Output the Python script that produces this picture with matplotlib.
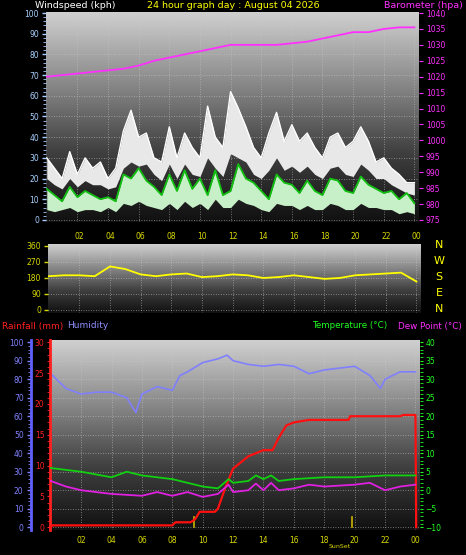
import numpy as np
import matplotlib
matplotlib.use("Agg")
import matplotlib.pyplot as plt
from matplotlib.colors import LinearSegmentedColormap

# ---------------- data ----------------
hour_ticks = [2, 4, 6, 8, 10, 12, 14, 16, 18, 20, 22, 24]
hour_labels = ["02", "04", "06", "08", "10", "12", "14", "16", "18", "20", "22", "00"]

baro = [1020, 1020.5, 1021, 1021.5, 1022, 1022.5, 1023.5, 1025, 1026, 1027, 1028, 1029,
        1030, 1030, 1030, 1030, 1030.5, 1031, 1032, 1033, 1034, 1034, 1035, 1035.5, 1035.5]

gust = [30, 25, 20, 33, 22, 30, 25, 28, 20, 25, 43, 53, 40, 42, 30, 28, 45, 30, 42, 35,
        30, 55, 40, 35, 62, 54, 45, 35, 30, 42, 52, 38, 46, 38, 42, 35, 30, 40, 42, 35,
        38, 45, 38, 28, 30, 25, 22, 18, 18]
gust_low = [20, 17, 15, 20, 16, 19, 17, 17, 15, 16, 25, 28, 26, 27, 22, 19, 27, 20, 27, 22,
            21, 30, 25, 21, 32, 30, 28, 22, 20, 24, 30, 24, 26, 23, 26, 22, 20, 25, 26, 22,
            21, 27, 24, 20, 20, 17, 15, 13, 12]
wind_avg = [15, 12, 9, 16, 11, 14, 12, 10, 11, 9, 22, 20, 25, 19, 16, 12, 22, 14, 24, 15,
            20, 12, 24, 12, 14, 27, 20, 18, 14, 10, 22, 18, 17, 13, 19, 14, 12, 20, 19, 14,
            13, 21, 17, 15, 13, 14, 10, 13, 8]
wind_lull = [5, 4, 5, 6, 4, 5, 5, 4, 6, 4, 8, 7, 9, 7, 6, 5, 8, 5, 9, 6, 8, 5, 10, 6, 6,
             10, 8, 7, 5, 4, 8, 7, 7, 5, 7, 5, 5, 8, 7, 5, 5, 8, 6, 6, 5, 5, 3, 4, 3]

wdir = [190, 195, 195, 190, 245, 230, 200, 190, 200, 205, 185, 190, 200, 195, 180, 185,
        195, 185, 175, 180, 195, 200, 205, 210, 160]

hum_h = [0, 1, 2, 3, 4, 5, 5.6, 6, 7, 8, 8.5, 9, 10, 11, 11.6, 12, 13, 14, 15, 16, 17, 18,
         19, 20, 21, 21.7, 22, 23, 24]
hum = [83, 75, 72, 73, 73, 70, 62, 72, 76, 74, 82, 84, 89, 91, 93, 90, 88, 87, 88, 87, 83,
       85, 86, 87, 82, 75, 80, 84, 84]

temp_h = [0, 2, 4, 5, 6, 8, 9, 10, 11, 11.7, 12, 13, 13.5, 14, 14.5, 15, 16, 18, 20, 22, 24]
temp = [6, 5, 3.5, 5, 4, 3, 2, 1, 0.5, 3, 2, 2.5, 4, 3, 4, 2.5, 3, 3.5, 3.5, 4, 4]

dew_h = [0, 1, 2, 4, 6, 7, 8, 9, 10, 11, 11.7, 12, 13, 13.5, 14, 14.5, 15, 16, 17, 18, 20,
         21, 22, 23, 24]
dew = [2.5, 1, 0, -1, -1.5, -0.5, -1.5, -0.5, -1.8, -1, 1.5, -0.5, 0, 1.8, 0, 2, 0, 0.5,
       1.5, 1, 1.5, 2, 0, 1, 1.5]

rain_h = [0, 0.1, 8, 8.2, 9.2, 9.5, 9.8, 10.8, 11, 11.5, 12, 12.5, 13, 13.5, 14, 14.6, 15,
          15.5, 16, 17, 19.6, 19.7, 23, 23.2, 24, 24.05]
rain = [0, 0.3, 0.3, 0.8, 0.8, 1.3, 2.5, 2.5, 3, 6.5, 9.5, 10.5, 11.5, 12, 12.5, 12.5, 14.5,
        16.5, 17, 17.4, 17.4, 18, 18, 18.2, 18.2, 0]

sun_events = [9.4, 19.8]

# ---------------- figure ----------------
W, H = 466, 555
fig = plt.figure(figsize=(W / 100, H / 100), dpi=100, facecolor="black")
cmap = LinearSegmentedColormap.from_list("bg", ["#101010", "#404040", "#8a8a8a", "#d0d0d0"])

def box(l, t, r, b):
    return [l / W, 1 - b / H, (r - l) / W, (b - t) / H]

def background(ax):
    grad = np.linspace(0, 1, 256).reshape(-1, 1)
    ax.imshow(grad, aspect="auto", cmap=cmap, origin="lower",
              extent=[*ax.get_xlim(), *ax.get_ylim()], zorder=0)

def style(ax, ycol, fs=5.5):
    ax.set_facecolor("black")
    for s in ax.spines.values():
        s.set_visible(False)
    ax.tick_params(axis="y", colors=ycol, labelsize=fs, length=3, width=1, pad=2)
    ax.tick_params(axis="x", colors="#d8d800", labelsize=fs, length=0, pad=4)
    ax.set_xticks(hour_ticks)
    ax.set_xticklabels(hour_labels)
    ax.grid(True, color="#c8c8c8", linestyle=(0, (1, 2)), linewidth=0.6, alpha=0.7)

XL = (-0.05, 24.3)

# --- panel 1: wind + barometer
ax1 = fig.add_axes(box(46, 12, 419, 222))
ax1.set_xlim(*XL)
ax1.set_ylim(-1, 100.5)
style(ax1, "#a8d0ff")
ax1.tick_params(axis="x", labelbottom=False)
ax1.set_yticks(range(0, 101, 10))
ax1.set_yticks(range(0, 101, 2), minor=True)
ax1.tick_params(axis="y", which="minor", colors="#a8d0ff", length=2)
background(ax1)
xw = np.linspace(0, 24, len(gust))
ax1.fill_between(xw, gust_low, gust, color="#e8e8e8", lw=0, zorder=2)
ax1.plot(xw, gust, color="white", lw=1, zorder=3)
ax1.fill_between(xw, wind_lull, wind_avg, color="#c8f0c8", lw=0, zorder=3)
ax1.plot(xw, wind_avg, color="#10c010", lw=1.3, zorder=4)
ax1b = ax1.twinx()
ax1b.set_xlim(*XL)
ax1b.set_ylim(975 - 0.65, 1040 + 0.33)
for s in ax1b.spines.values():
    s.set_visible(False)
ax1b.set_yticks(range(975, 1041, 5))
ax1b.tick_params(axis="y", colors="#ff30ff", labelsize=5.5, length=3, pad=2)
ax1b.plot(np.linspace(0, 24, len(baro)), baro, color="#ff30ff", lw=1.3)
ax1.set_zorder(1)
ax1b.set_zorder(2)
ax1b.patch.set_visible(False)

fig.text(35 / W, 1 - 5 / H, "Windspeed (kph)", color="white", fontsize=6.8, va="center")
fig.text(233 / W, 1 - 5 / H, "24 hour graph day : August 04 2026", color="#ffff00",
         fontsize=6.8, va="center", ha="center")
fig.text(463 / W, 1 - 5 / H, "Barometer (hpa)", color="#ff30ff", fontsize=6.8,
         va="center", ha="right")

# --- panel 2: wind direction
ax2 = fig.add_axes(box(48, 244, 421, 313))
ax2.set_xlim(*XL)
ax2.set_ylim(-17, 371)
style(ax2, "#d8d800")
ax2.xaxis.tick_top()
ax2.tick_params(axis="x", pad=2)
ax2.set_yticks([0, 90, 180, 270, 360])
background(ax2)
ax2.plot(np.linspace(0, 24, len(wdir)), wdir, color="#ffff00", lw=1.3, zorder=3)
for i, lab in enumerate(["N", "W", "S", "E", "N"]):
    fig.text(439 / W, 1 - (245 + i * 16) / H, lab, color="#ffff00", fontsize=8,
             va="center", ha="center")

fig.text(2 / W, 1 - 326 / H, "Rainfall (mm)", color="#ff2020", fontsize=6.5, va="center")
fig.text(67 / W, 1 - 326 / H, "Humidity", color="#9090ff", fontsize=6.5, va="center")
fig.text(312 / W, 1 - 326 / H, "Temperature (\u00b0C)", color="#20ff20", fontsize=6.3,
         va="center")
fig.text(462 / W, 1 - 326 / H, "Dew Point (\u00b0C)", color="#ff30ff", fontsize=6.3,
         va="center", ha="right")

# --- panel 3: humidity, rain, temperature, dew point
ax3 = fig.add_axes(box(50, 340, 420, 530))
ax3.set_xlim(*XL)
ax3.set_ylim(-1.5, 101.2)
style(ax3, "#8080ff")
ax3.spines["left"].set_visible(True)
ax3.spines["left"].set_position(("outward", 14))
ax3.spines["left"].set_color("#6060ff")
ax3.spines["left"].set_linewidth(2)
ax3.set_yticks(range(0, 101, 10))
ax3.set_yticks(range(0, 101, 2), minor=True)
ax3.tick_params(axis="y", which="minor", colors="#8080ff", length=2)
background(ax3)
ax3.plot(hum_h, hum, color="#8080ff", lw=1.2, zorder=3)

ax3r = ax3.twinx()
ax3r.yaxis.tick_left()
ax3r.set_ylim(-1.5 * 0.3, 101.2 * 0.3)
for s in ax3r.spines.values():
    s.set_visible(False)
ax3r.spines["left"].set_visible(True)
ax3r.spines["left"].set_color("#ff2020")
ax3r.spines["left"].set_linewidth(2)
ax3r.set_yticks(range(0, 31, 5))
ax3r.set_yticks(range(0, 31, 1), minor=True)
ax3r.tick_params(axis="y", which="both", colors="#ff2020", labelsize=5.5, length=2, pad=2)
ax3r.plot(rain_h, rain, color="#ff1010", lw=1.6, zorder=5)
for s in sun_events:
    ax3r.plot([s, s], [0, 1.6], color="#c8b400", lw=1.2)
ax3r.patch.set_visible(False)

ax3t = ax3.twinx()
ax3t.set_ylim(-10 - 0.75, 40 + 0.6)
for s in ax3t.spines.values():
    s.set_visible(False)
ax3t.set_yticks(range(-10, 41, 5))
ax3t.set_yticks(range(-10, 41, 1), minor=True)
ax3t.tick_params(axis="y", which="both", colors="#20ff20", labelsize=5.5, length=2, pad=2)
ax3t.plot(temp_h, temp, color="#10d010", lw=1.3, zorder=3)
ax3t.plot(dew_h, dew, color="#e020e0", lw=1.3, zorder=3)
ax3t.patch.set_visible(False)
ax3t.set_xlim(*XL)
ax3r.set_xlim(*XL)

fig.text(340 / W, 1 - 546 / H, "SunSet", color="#d8d800", fontsize=4.5, va="center",
         ha="center")

fig.savefig("out.png", dpi=100, facecolor="black")
